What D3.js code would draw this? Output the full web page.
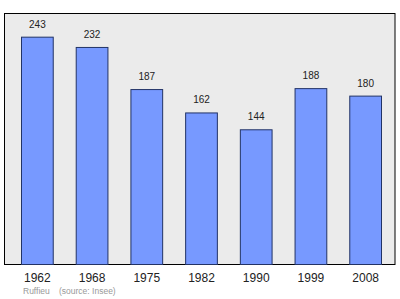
<!DOCTYPE html>
<html>
<head>
<meta charset="utf-8">
<script src="https://cdn.jsdelivr.net/npm/d3@7"></script>
<style>
  body { margin: 0; background: #fff; }
  svg { display: block; font-family: "Liberation Sans", Arial, sans-serif; }
</style>
</head>
<body>
<div id="chart"></div>
<script>
const years = ["1962", "1968", "1975", "1982", "1990", "1999", "2008"];
const population = [243, 232, 187, 162, 144, 188, 180];
const place = "Ruffieu";
const source = "(source: Insee)";

const width = 400;
const height = 299;
const marginTop = 13;
const marginRight = 5;
const marginBottom = 35;
const marginLeft = 4;

const svg = d3.select("#chart")
    .append("svg")
    .attr("width", width)
    .attr("height", height);

const x = d3.scaleBand()
    .domain(years)
    .range([marginLeft + 17, width - marginRight - 14])
    .paddingInner(0.42)
    .paddingOuter(0);

const y = d3.scaleLinear()
    .domain([0, 268.3])
    .range([height - marginBottom, marginTop]);

// plot frame
svg.append("rect")
    .attr("x", marginLeft + 0.5)
    .attr("y", marginTop + 0.5)
    .attr("width", width - marginLeft - marginRight - 0.5)
    .attr("height", height - marginTop - marginBottom)
    .attr("fill", "#ebebeb")
    .attr("stroke", "#000")
    .attr("stroke-width", 1);

// bars
svg.append("g")
    .selectAll("rect")
    .data(population)
    .join("rect")
    .attr("x", (d, i) => x(years[i]) + 0.5)
    .attr("y", d => y(d) + 0.5)
    .attr("width", x.bandwidth())
    .attr("height", d => y(0) - y(d))
    .attr("fill", "#7799ff")
    .attr("stroke", "#223366")
    .attr("stroke-width", 1);

// value labels
svg.append("g")
    .selectAll("text")
    .data(population)
    .join("text")
    .attr("x", (d, i) => x(years[i]) + x.bandwidth() / 2 + 0.5)
    .attr("y", d => y(d) - 9)
    .attr("text-anchor", "middle")
    .attr("font-size", 10)
    .attr("fill", "#222")
    .text(d => d);

// x axis labels
const xAxis = svg.append("g")
    .attr("transform", `translate(0.5,${height - marginBottom})`)
    .call(d3.axisBottom(x).tickSize(0).tickPadding(9));
xAxis.select(".domain").remove();
xAxis.selectAll("text")
    .attr("font-size", 12)
    .attr("fill", "#222")
    .attr("font-family", "Liberation Sans, Arial, sans-serif");

// footer
svg.append("text")
    .attr("x", 23)
    .attr("y", 294)
    .attr("font-size", 8.5)
    .attr("fill", "#999")
    .text(place);
svg.append("text")
    .attr("x", 59)
    .attr("y", 294)
    .attr("font-size", 8.5)
    .attr("fill", "#999")
    .text(source);
</script>
</body>
</html>
